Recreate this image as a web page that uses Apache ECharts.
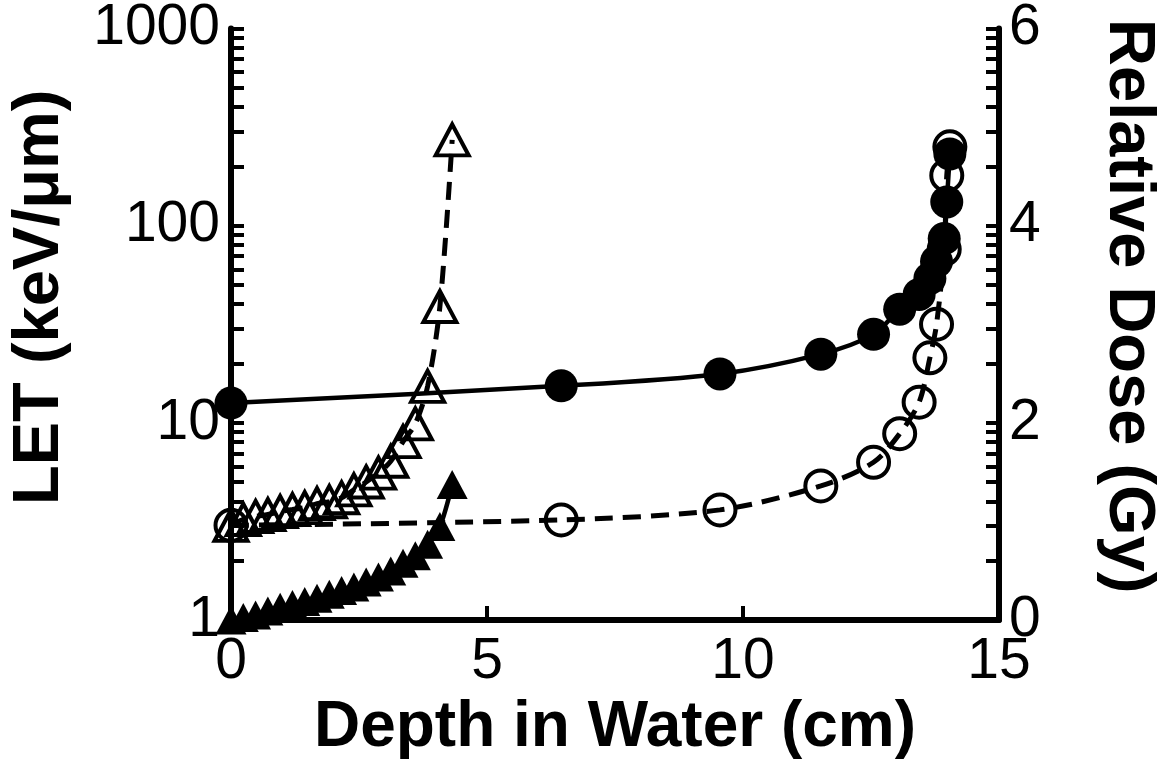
<!DOCTYPE html>
<html><head><meta charset="utf-8">
<script src="https://cdn.jsdelivr.net/npm/echarts@6/dist/echarts.min.js"></script>
<style>html,body{margin:0;padding:0;background:#fff}#c{width:1168px;height:771px}</style>
</head><body><div id="c"></div>
<script>
// ---- data ----
const depthCarbon = [0, 6.45, 9.55, 11.52, 12.55, 13.06, 13.44, 13.65, 13.78, 13.93, 13.98, 14.04];
const letCarbon   = [12.6, 15.4, 17.7, 22.3, 28.1, 37.7, 44.8, 54, 65.8, 86, 132, 231];
const doseCarbon  = [0.96, 1.015, 1.117, 1.36, 1.60, 1.89, 2.21, 2.66, 3.0, 3.76, 4.51, 4.80];
const depthProton = [0, 0.24, 0.48, 0.72, 0.96, 1.2, 1.44, 1.68, 1.92, 2.16, 2.4, 2.64, 2.88, 3.12, 3.36, 3.6, 3.84, 4.08, 4.32];
const letProton   = [1.0, 1.03, 1.06, 1.11, 1.16, 1.2, 1.24, 1.29, 1.35, 1.41, 1.47, 1.56, 1.65, 1.77, 1.94, 2.12, 2.42, 2.98, 4.86];
const doseProton  = [0.96, 1.02, 1.05, 1.07, 1.10, 1.12, 1.14, 1.18, 1.20, 1.24, 1.32, 1.40, 1.49, 1.61, 1.81, 1.99, 2.37, 3.18, 4.87];
const xTickLabels = [0, 5, 10, 15];
const letTickLabels = [1, 10, 100, 1000];
const letTickMarks = [1,2,3,4,5,6,7,8,9,10,20,30,40,50,60,70,80,90,100,200,300,400,500,600,700,800,900,1000];
const doseTickLabels = [0, 2, 4, 6];

const FONT = '"Liberation Sans", Arial, sans-serif';
const zip = (a, b) => a.map((v, i) => [v, b[i]]);

const chart = echarts.init(document.getElementById('c'), null, {renderer: 'canvas'});
const lblStyle = {color: '#000', fontSize: 57, fontFamily: FONT, formatter: v => String(v)};
const nameStyle = {color: '#000', fontSize: 65, fontWeight: 'bold', fontFamily: FONT};

chart.setOption({
  animation: false,
  backgroundColor: '#fff',
  grid: {left: 228, right: 160, top: 27, bottom: 151, containLabel: false},
  xAxis: {
    type: 'value', min: 0, max: 15, interval: 5,
    axisLine: {onZero: false, lineStyle: {color: '#000', width: 6}},
    axisTick: {inside: true, length: 14, lineStyle: {color: '#000', width: 4}},
    axisLabel: Object.assign({margin: 14, customValues: xTickLabels}, lblStyle),
    splitLine: {show: false},
    name: 'Depth in Water (cm)', nameLocation: 'middle', nameGap: 76,
    nameTextStyle: Object.assign({}, nameStyle, {fontSize: 64})
  },
  yAxis: [
    {
      type: 'log', logBase: 10, min: 1, max: 1000, position: 'left',
      axisLine: {show: true, lineStyle: {color: '#000', width: 6}},
      axisTick: {show: true, inside: true, length: 13, customValues: letTickMarks, lineStyle: {color: '#000', width: 4}},
      axisLabel: Object.assign({margin: 11, customValues: letTickLabels}, lblStyle),
      splitLine: {show: false}, minorTick: {show: false},
      name: 'LET (keV/μm)', nameLocation: 'middle', nameGap: 158, nameRotate: 90,
      nameTextStyle: Object.assign({}, nameStyle, {padding: [0, 0, 0, 54]})
    },
    {
      type: 'value', min: 0, max: 6, interval: 2, position: 'right',
      axisLine: {show: true, lineStyle: {color: '#000', width: 6}},
      axisTick: {show: false},
      axisLabel: Object.assign({margin: 10, customValues: doseTickLabels}, lblStyle),
      splitLine: {show: false},
      name: 'Relative Dose (Gy)', nameLocation: 'middle', nameGap: 96, nameRotate: -90,
      nameTextStyle: Object.assign({}, nameStyle, {padding: [0, 36, 0, 0]})
    },
    {
      type: 'log', logBase: 10, min: 1, max: 1000, position: 'right',
      axisLine: {show: false},
      axisTick: {show: true, inside: true, length: 13, customValues: letTickMarks, lineStyle: {color: '#000', width: 4}},
      axisLabel: {show: false},
      splitLine: {show: false}
    }
  ],
  series: [
    {
      name: 'Dose carbon', type: 'line', yAxisIndex: 1, clip: false,
      data: zip(depthCarbon, doseCarbon), smooth: 0.3,
      symbol: 'circle', symbolSize: 31,
      itemStyle: {color: 'rgba(255,255,255,0)', borderColor: '#000', borderWidth: 4},
      lineStyle: {color: '#000', width: 5, type: [18, 10]}, z: 2
    },
    {
      name: 'Dose proton', type: 'line', yAxisIndex: 1, clip: false,
      data: zip(depthProton, doseProton), smooth: 0.3,
      symbol: 'triangle', symbolSize: [33, 31],
      itemStyle: {color: 'rgba(255,255,255,0)', borderColor: '#000', borderWidth: 4},
      lineStyle: {color: '#000', width: 5, type: [18, 10]}, z: 2
    },
    {
      name: 'LET carbon', type: 'line', yAxisIndex: 0, clip: false,
      data: zip(depthCarbon, letCarbon), smooth: 0.3,
      symbol: 'circle', symbolSize: 33,
      itemStyle: {color: '#000', borderColor: '#000', borderWidth: 0},
      lineStyle: {color: '#000', width: 4.5}, z: 3
    },
    {
      name: 'LET proton', type: 'line', yAxisIndex: 0, clip: false,
      data: zip(depthProton, letProton), smooth: 0.3,
      symbol: 'triangle', symbolSize: [31, 29],
      itemStyle: {color: '#000', borderColor: '#000', borderWidth: 0},
      lineStyle: {color: '#000', width: 4.5}, z: 3
    }
  ]
});
</script></body></html>
